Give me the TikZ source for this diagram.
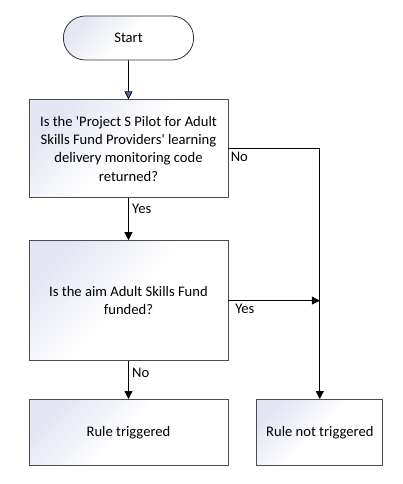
\documentclass[tikz,border=0pt]{standalone}
\usepackage{fontspec}
\setmainfont{Carlito}
\usetikzlibrary{arrows.meta,positioning,shapes.misc}
\definecolor{boxtint}{HTML}{E4E7F3}
\definecolor{tipblue}{HTML}{4F6FA8}
\begin{document}
\begin{tikzpicture}[x=1pt, y=-1pt, auto,
		font=\fontsize{14.6}{18.2}\selectfont,
		block/.style={rectangle, draw=black!70, line width=0.8pt, top color=boxtint, bottom color=white, middle color=white, shading angle=45, align=center, minimum width=199pt},
		terminal/.style={rounded rectangle, draw=black!80, line width=0.8pt, top color=boxtint, bottom color=white, middle color=white, shading angle=45, minimum width=137pt, minimum height=44pt},
		line/.style={draw, line width=0.8pt, -{Triangle[length=8pt, width=8pt]}}]
		\useasboundingbox (0,0) rectangle (403,484);
		% Nodes
		\node [terminal] (start) at (128.5,38) {Start};
		\node [block, minimum height=98pt, below=39pt of start] (pilot) {Is the \textquotesingle Project S Pilot for Adult\\Skills Fund Providers\textquotesingle{} learning\\delivery monitoring code\\returned?};
		\node [block, minimum height=120pt, below=42pt of pilot] (funded) {Is the aim Adult Skills Fund\\funded?};
		\node [block, minimum height=66pt, below=38pt of funded] (trig) {Rule triggered};
		\node [block, minimum width=126pt, minimum height=66pt, right=28pt of trig] (nottrig) {Rule not triggered};
		\coordinate (join) at (nottrig.north |- funded.east);

		% Paths
		\path [line, -{Triangle[length=8pt, width=8pt, fill=tipblue]}] (start) -- (pilot);
		\path [line] (pilot) -- node [pos=0.25] {Yes} (funded);
		\path [line] (pilot.east) -| node [pos=0.06, below] {No} (nottrig.north);
		\path [line] (funded.east) -- node [pos=0.18, below] {Yes} (join);
		\path [line] (funded) -- node [pos=0.3] {No} (trig);
	\end{tikzpicture}
\end{document}
